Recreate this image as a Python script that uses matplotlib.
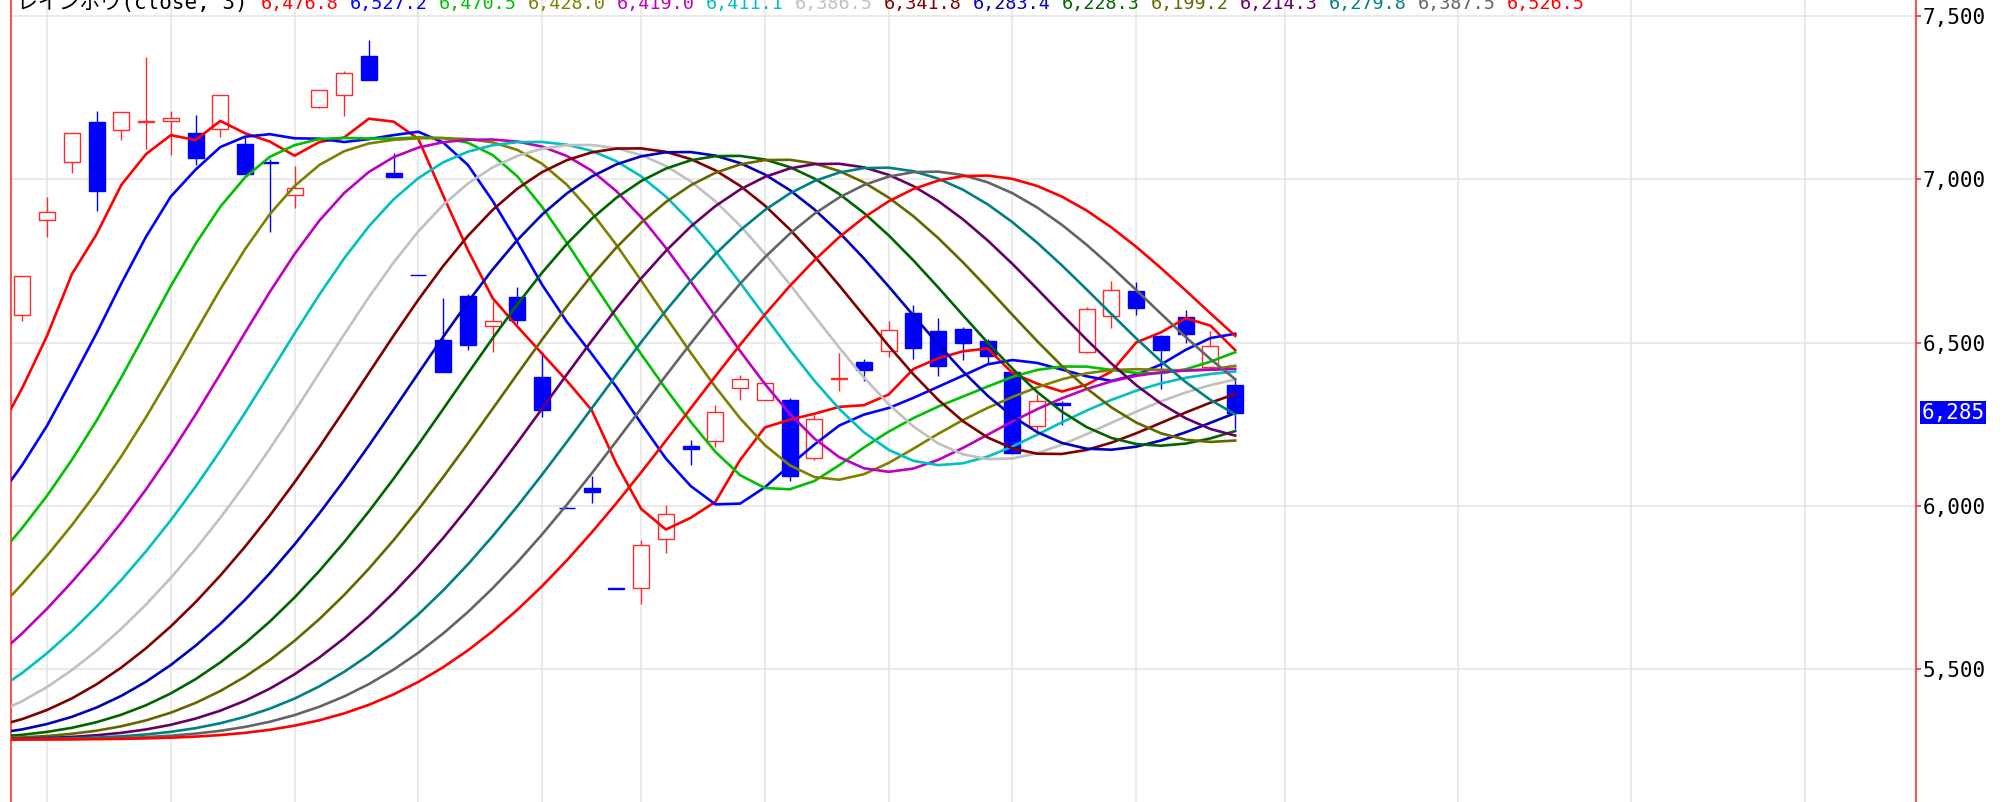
import numpy as np
import pandas as pd
import matplotlib
matplotlib.use("Agg")
import matplotlib.pyplot as plt
from matplotlib.patches import Rectangle
from matplotlib.transforms import blended_transform_factory

# ---------------- data ----------------
opens  = [6585, 6876, 7051, 7176, 7150, 7174, 7178, 7140, 7153, 7107,
          7052, 6951, 7222, 7257, 7377, 7020, 6708, 6509, 6641, 6550,
          6638, 6395, 5995, 6055, 5748, 5749, 5898, 6183, 6199, 6361,
          6323, 6323, 6148, 6388, 6440, 6475, 6590, 6535, 6540, 6505,
          6411, 6245, 6315, 6470, 6580, 6657, 6519, 6577, 6424, 6370]
highs  = [6705, 6944, 7140, 7207, 7204, 7375, 7209, 7197, 7257, 7129,
          7063, 7041, 7273, 7331, 7426, 7081, 6708, 6635, 6649, 6628,
          6669, 6470, 5998, 6093, 5748, 5897, 6002, 6202, 6309, 6402,
          6380, 6330, 6279, 6468, 6448, 6565, 6616, 6574, 6547, 6510,
          6415, 6343, 6322, 6610, 6687, 6686, 6522, 6598, 6535, 6387]
lows   = [6567, 6822, 7018, 6901, 7120, 7092, 7074, 7044, 7130, 7015,
          6837, 6913, 7219, 7194, 7303, 7005, 6707, 6409, 6476, 6470,
          6557, 6272, 5994, 6010, 5747, 5700, 5857, 6126, 6180, 6323,
          6323, 6076, 6139, 6352, 6382, 6457, 6450, 6399, 6445, 6435,
          6160, 6231, 6248, 6468, 6544, 6584, 6358, 6499, 6424, 6236]
closes = [6705, 6898, 7140, 6964, 7204, 7177, 7188, 7064, 7257, 7015,
          7050, 6972, 7273, 7326, 7303, 7005, 6707, 6409, 6491, 6567,
          6570, 6292, 5994, 6043, 5747, 5879, 5976, 6173, 6287, 6389,
          6376, 6093, 6265, 6392, 6415, 6539, 6484, 6429, 6498, 6459,
          6162, 6322, 6309, 6603, 6660, 6606, 6477, 6526, 6489, 6285]

# closes before the visible window (estimated from where the lines enter)
prior_close = [5285, 5288, 5283, 5286, 5284, 5287, 5285, 5282, 5286, 5288,
               5284, 5285, 5287, 5283, 5285, 5286, 5284, 5285, 5288, 5284,
               5285, 5286, 5283, 5285, 5287, 5285, 5284, 5286, 5283, 5287,
               5285, 5284, 5286, 5285, 5283, 5287, 5284, 5286, 5285, 5288,
               5284, 5285, 5287, 5283, 5286, 5285, 5284, 5286, 5285, 5284,
               5286,
               5288, 5300, 5365, 5440, 5510, 5590, 5670, 5750, 5835, 5915,
               6005, 6100, 6200, 6350, 6450]

rainbow_period = 5
rainbow_count = 15
rainbow_colors = ["#ff0000", "#0000ff", "#00c000", "#808000", "#c000c0",
                  "#00c0c0", "#c0c0c0", "#800000", "#0000c0", "#006400",
                  "#666600", "#660066", "#008080", "#646464", "#ff0000"]

title_label = "レインボウ(close, 3)"
title_values = [6476.8, 6527.2, 6470.5, 6428.0, 6419.0, 6411.1, 6386.5,
                6341.8, 6283.4, 6228.3, 6199.2, 6214.3, 6279.8, 6387.5, 6526.5]
last_price = 6285
y_ticks = [5500, 6000, 6500, 7000, 7500]
week_grid = [1, 6, 11, 16, 21, 25, 30, 35, 40, 45, 51, 58, 65, 72]

# ---------------- figure ----------------
W, H = 2015, 802
fig = plt.figure(figsize=(W / 100, H / 100), dpi=100)
ax_left, ax_right = 10.7, 1915.7
ax = fig.add_axes([ax_left / W, 0, (ax_right - ax_left) / W, 1])
ax.set_xlim(-0.469, 76.49)
ax.set_ylim(5094, 7548)
ax.set_facecolor("white")

# grid
for g in week_grid:
    ax.axvline(g, color="#e4e4e4", lw=1.1, zorder=0)
for t in y_ticks:
    ax.axhline(t, color="#e4e4e4", lw=1.1, zorder=0)

# candles
up_col = "#ff2a2a"
dn_col = "#0000ff"
bw = 0.646
for i, (o, h, l, c) in enumerate(zip(opens, highs, lows, closes)):
    up = c > o
    col = up_col if up else dn_col
    lo, hi = min(o, c), max(o, c)
    ax.plot([i, i], [l, lo], color=col, lw=1.0, zorder=2, solid_capstyle="butt")
    ax.plot([i, i], [hi, h], color=col, lw=1.0, zorder=2, solid_capstyle="butt")
    ax.add_patch(Rectangle((i - bw / 2, lo), bw, hi - lo,
                           facecolor="white" if up else dn_col,
                           edgecolor=col, lw=1.0, zorder=2))

# rainbow: repeated moving averages, each of the previous line
s = pd.Series(prior_close + closes, dtype=float)
x_ma = np.arange(len(s)) - len(prior_close)
cur = s
for k in range(rainbow_count):
    cur = cur.rolling(rainbow_period).mean()
    v = cur.to_numpy()
    m = ~np.isnan(v) & (x_ma >= -3)
    ax.plot(x_ma[m], v[m], color=rainbow_colors[k], lw=1.9, zorder=3)

# spines / axis
for side in ("top", "bottom"):
    ax.spines[side].set_visible(False)
for side in ("left", "right"):
    ax.spines[side].set_color("#ff3030")
    ax.spines[side].set_linewidth(1.2)
ax.set_xticks([])
ax.yaxis.tick_right()
ax.set_yticks(y_ticks)
ax.set_yticklabels([f"{t:,}" for t in y_ticks], family="DejaVu Sans Mono")
ax.tick_params(axis="y", colors="#ff3030", labelcolor="black", labelsize=15,
               length=3.6, width=1.2, pad=1.5)

# last price label
ax.annotate(f"{last_price:,}", xy=(1.0, last_price),
            xycoords=blended_transform_factory(ax.transAxes, ax.transData),
            xytext=(6, 0), textcoords="offset pixels", ha="left", va="center",
            color="white", fontsize=15, family="DejaVu Sans Mono",
            bbox=dict(boxstyle="square,pad=0.08", fc="#0000ff", ec="none"))

# title line (clipped at the top edge like the reference)
fam = ["DejaVu Sans Mono", "Noto Sans CJK JP"]
base_y = 1 - 9 / H
fig.text(17 / W, base_y, title_label, family=fam, fontsize=15,
         color="black", va="baseline", ha="left")
fig.canvas.draw()
renderer = fig.canvas.get_renderer()
x_px = 261
for val, col in zip(title_values, rainbow_colors):
    t = fig.text(x_px / W, base_y, f"{val:,.1f}", family=fam, fontsize=13.3,
                 color=col, va="baseline", ha="left")
    bb = t.get_window_extent(renderer=renderer)
    x_px += bb.width * 8 / 7

fig.savefig("out.png", dpi=100, facecolor="white")
